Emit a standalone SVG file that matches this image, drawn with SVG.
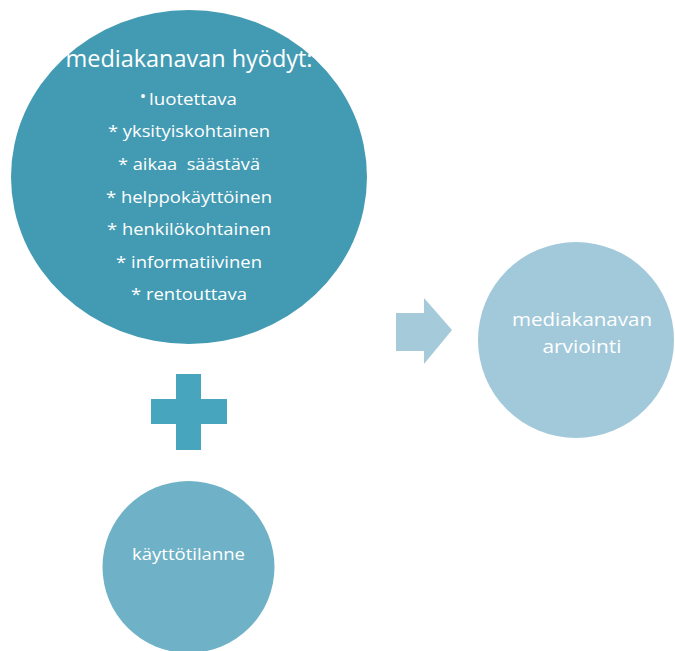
<svg xmlns="http://www.w3.org/2000/svg" width="675" height="651" viewBox="0 0 675 651">
<style>
text{font-family:"Open Sans","Liberation Sans",sans-serif;fill:#ffffff;text-anchor:middle}
.t{font-size:24px}
.i{font-size:17px}
.r{font-size:19px}
</style>
<rect width="675" height="651" fill="#ffffff"/>
<g id="benefits">
<ellipse cx="189" cy="177" rx="178" ry="167" fill="#439BB3"/>
<text class="t" x="189" y="67" textLength="247" lengthAdjust="spacingAndGlyphs">mediakanavan hyödyt:</text>
<text class="i" x="143" y="102" font-size="9">•</text>
<text class="i" x="193" y="105" textLength="88" lengthAdjust="spacingAndGlyphs">luotettava</text>
<text class="i" x="189" y="137" textLength="162" lengthAdjust="spacingAndGlyphs">* yksityiskohtainen</text>
<text class="i" x="189" y="170" textLength="142" lengthAdjust="spacingAndGlyphs" xml:space="preserve">* aikaa  säästävä</text>
<text class="i" x="189" y="203" textLength="166" lengthAdjust="spacingAndGlyphs">* helppokäyttöinen</text>
<text class="i" x="189" y="235" textLength="164" lengthAdjust="spacingAndGlyphs">* henkilökohtainen</text>
<text class="i" x="189" y="268" textLength="146" lengthAdjust="spacingAndGlyphs">* informatiivinen</text>
<text class="i" x="189" y="300" textLength="116" lengthAdjust="spacingAndGlyphs">* rentouttava</text>
</g>
<g id="plus">
<rect x="176" y="374" width="25" height="76" fill="#47A5BD"/>
<rect x="151" y="399" width="76" height="25" fill="#47A5BD"/>
</g>
<g id="situation">
<circle cx="188.5" cy="567" r="86" fill="#6FB2C7"/>
<text class="i" x="188.5" y="560" textLength="113" lengthAdjust="spacingAndGlyphs">käyttötilanne</text>
</g>
<g id="connectors">
<polygon points="396,313 424,313 424,298 452,330 424,364 424,351 396,351" fill="#A5CBDB"/>
</g>
<g id="evaluation">
<circle cx="576" cy="340" r="98" fill="#A1C9DA"/>
<text class="r" x="582" y="326" textLength="140" lengthAdjust="spacingAndGlyphs">mediakanavan</text>
<text class="r" x="582" y="353" textLength="79" lengthAdjust="spacingAndGlyphs">arviointi</text>
</g>
</svg>
